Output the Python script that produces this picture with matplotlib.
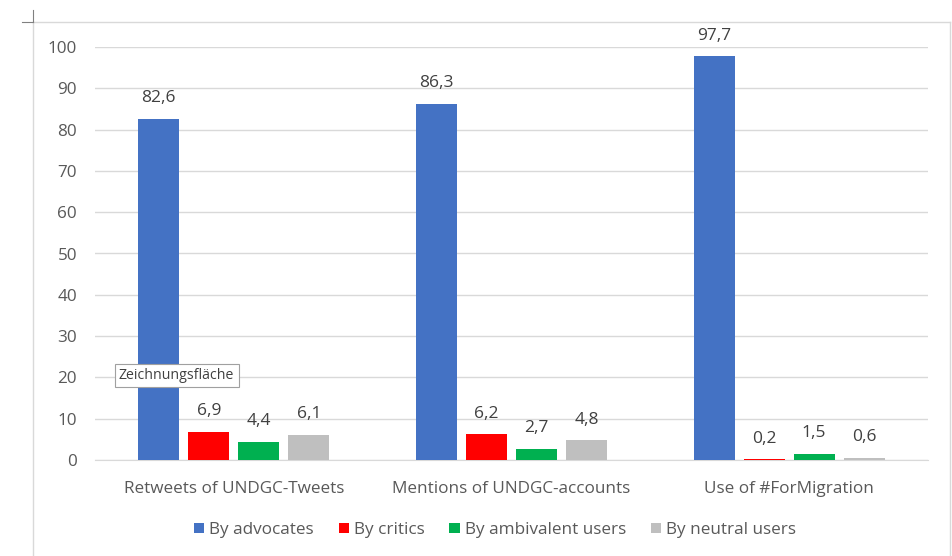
import numpy as np
import matplotlib.pyplot as plt
from matplotlib.lines import Line2D

categories = ['Retweets of UNDGC-Tweets', 'Mentions of UNDGC-accounts', 'Use of #ForMigration']
series = ['By advocates', 'By critics', 'By ambivalent users', 'By neutral users']
advocates = [82.6, 86.3, 97.7]
critics = [6.9, 6.2, 0.2]
ambivalent = [4.4, 2.7, 1.5]
neutral = [6.1, 4.8, 0.6]
colors = ['#4472C4', '#FF0000', '#00B050', '#BFBFBF']

plt.rcParams['font.family'] = ['Open Sans', 'DejaVu Sans']
txt = '#595959'

W, H = 952, 556
fig = plt.figure(figsize=(W / 100, H / 100), dpi=100)
ax = fig.add_axes([95 / W, (H - 460) / H, (928 - 95) / W, (460 - 47) / H])

x = np.arange(len(categories))
step = 0.18
width = 0.147
for i, (name, vals) in enumerate(zip(series, [advocates, critics, ambivalent, neutral])):
    pos = x + (i - 1.5) * step
    bars = ax.bar(pos, vals, width, color=colors[i], label=name, zorder=3)
    for b, v in zip(bars, vals):
        ax.text(b.get_x() + b.get_width() / 2, v + 3, f'{v:.1f}'.replace('.', ','),
                ha='center', va='bottom', fontsize=12.5, color='#404040')

ax.set_xlim(-0.5, 2.5)
ax.set_ylim(0, 100)
ax.set_yticks(range(0, 101, 10))
ax.set_xticks(x)
ax.set_xticklabels(categories)
ax.tick_params(axis='both', length=0, labelsize=12.3, colors=txt)
ax.tick_params(axis='y', pad=13)
ax.tick_params(axis='x', pad=15)
ax.grid(axis='y', color='#D9D9D9', linewidth=1, zorder=0)
for s in ['top', 'right', 'left']:
    ax.spines[s].set_visible(False)
ax.spines['bottom'].set_color('#D9D9D9')

leg = fig.legend(loc='center', bbox_to_anchor=(495 / W, (H - 530) / H), ncol=4,
                 frameon=False, fontsize=12.3, handlelength=0.6, handleheight=0.6,
                 handletextpad=0.3, columnspacing=1.45)
for t in leg.get_texts():
    t.set_color(txt)

# tooltip box
ax.text(-0.5 + (119 - 95) / 277.7, 20.5, 'Zeichnungsfläche', fontsize=10.2,
        color='#404040', ha='left', va='center', zorder=5,
        bbox=dict(boxstyle='square,pad=0.3', fc='white', ec='#A0A0A0', lw=0.8))

# outer chart frame
frame = '#D9D9D9'
fig.add_artist(Line2D([33 / W, 33 / W], [0, (H - 22) / H], color=frame, lw=1))
fig.add_artist(Line2D([33 / W, 950 / W], [(H - 22) / H, (H - 22) / H], color=frame, lw=1))
fig.add_artist(Line2D([950 / W, 950 / W], [0, (H - 22) / H], color=frame, lw=1))
fig.add_artist(Line2D([33 / W, 33 / W], [(H - 22) / H, (H - 10) / H], color='#808080', lw=0.8))
fig.add_artist(Line2D([22 / W, 33 / W], [(H - 22) / H, (H - 22) / H], color='#808080', lw=0.8))

fig.savefig('out.png', dpi=100)
